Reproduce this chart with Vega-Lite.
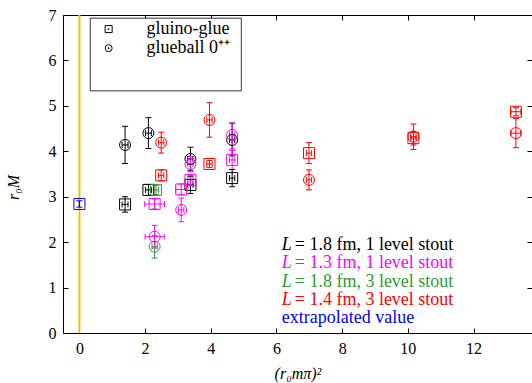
{
  "$schema": "https://vega.github.io/schema/vega-lite/v6.json",
  "width": 469,
  "height": 318,
  "autosize": {"type": "none"},
  "padding": {"left": 63, "top": 15, "right": 0, "bottom": 50},
  "background": "white",
  "config": {
    "view": {"stroke": "#000", "strokeWidth": 1},
    "font": "Liberation Serif",
    "axis": {"grid": false, "domain": false, "tickSize": -5, "tickColor": "#000", "tickWidth": 1, "labelColor": "#000", "labelFont": "Liberation Serif", "labelFontSize": 16, "titleFont": "Liberation Serif", "titleFontSize": 16, "titleFontWeight": "normal", "titleColor": "#000", "labelFlush": false, "labelOverlap": false}
  },
  "datasets": {
    "main": [
      {"s": "k", "m": "sq", "x": 1.39, "y": 2.83, "xlo": 1.30, "xhi": 1.48, "ylo": 2.66, "yhi": 3.00},
      {"s": "k", "m": "ci", "x": 1.39, "y": 4.14, "xlo": 1.30, "xhi": 1.48, "ylo": 3.73, "yhi": 4.55},
      {"s": "k", "m": "sq", "x": 2.10, "y": 3.15, "xlo": 2.01, "xhi": 2.19, "ylo": 3.03, "yhi": 3.27},
      {"s": "k", "m": "ci", "x": 2.10, "y": 4.40, "xlo": 2.01, "xhi": 2.19, "ylo": 4.06, "yhi": 4.74},
      {"s": "k", "m": "sq", "x": 3.38, "y": 3.26, "xlo": 3.30, "xhi": 3.46, "ylo": 3.07, "yhi": 3.45},
      {"s": "k", "m": "ci", "x": 3.38, "y": 3.83, "xlo": 3.30, "xhi": 3.46, "ylo": 3.57, "yhi": 4.09},
      {"s": "k", "m": "sq", "x": 4.65, "y": 3.41, "xlo": 4.57, "xhi": 4.73, "ylo": 3.22, "yhi": 3.60},
      {"s": "k", "m": "ci", "x": 4.65, "y": 4.25, "xlo": 4.57, "xhi": 4.73, "ylo": 3.90, "yhi": 4.62},
      {"s": "g", "m": "sq", "x": 2.33, "y": 3.15, "xlo": 2.25, "xhi": 2.41, "ylo": 3.05, "yhi": 3.25},
      {"s": "g", "m": "ci", "x": 2.29, "y": 1.90, "xlo": 2.21, "xhi": 2.37, "ylo": 1.65, "yhi": 2.15},
      {"s": "m", "m": "sq", "x": 2.29, "y": 2.84, "xlo": 1.99, "xhi": 2.59, "ylo": 2.73, "yhi": 2.95},
      {"s": "m", "m": "ci", "x": 2.29, "y": 2.12, "xlo": 2.00, "xhi": 2.58, "ylo": 1.87, "yhi": 2.37},
      {"s": "m", "m": "sq", "x": 3.10, "y": 3.16, "xlo": 2.93, "xhi": 3.27, "ylo": 3.04, "yhi": 3.28},
      {"s": "m", "m": "ci", "x": 3.10, "y": 2.71, "xlo": 3.02, "xhi": 3.18, "ylo": 2.45, "yhi": 2.97},
      {"s": "m", "m": "sq", "x": 3.38, "y": 3.37, "xlo": 3.30, "xhi": 3.46, "ylo": 3.27, "yhi": 3.47},
      {"s": "m", "m": "ci", "x": 3.38, "y": 3.72, "xlo": 3.30, "xhi": 3.46, "ylo": 3.55, "yhi": 3.89},
      {"s": "m", "m": "sq", "x": 4.65, "y": 3.81, "xlo": 4.57, "xhi": 4.73, "ylo": 3.60, "yhi": 4.02},
      {"s": "m", "m": "ci", "x": 4.65, "y": 4.36, "xlo": 4.57, "xhi": 4.73, "ylo": 4.05, "yhi": 4.62},
      {"s": "r", "m": "ci", "x": 2.49, "y": 4.19, "xlo": 2.41, "xhi": 2.57, "ylo": 3.96, "yhi": 4.42},
      {"s": "r", "m": "sq", "x": 2.49, "y": 3.47, "xlo": 2.41, "xhi": 2.57, "ylo": 3.35, "yhi": 3.59},
      {"s": "r", "m": "ci", "x": 3.96, "y": 4.69, "xlo": 3.88, "xhi": 4.04, "ylo": 4.31, "yhi": 5.07},
      {"s": "r", "m": "sq", "x": 3.96, "y": 3.72, "xlo": 3.88, "xhi": 4.04, "ylo": 3.64, "yhi": 3.80},
      {"s": "r", "m": "sq", "x": 6.99, "y": 3.96, "xlo": 6.91, "xhi": 7.07, "ylo": 3.73, "yhi": 4.19},
      {"s": "r", "m": "ci", "x": 6.99, "y": 3.37, "xlo": 6.91, "xhi": 7.07, "ylo": 3.15, "yhi": 3.59},
      {"s": "r", "m": "sq", "x": 10.17, "y": 4.29, "xlo": 10.09, "xhi": 10.25, "ylo": 4.14, "yhi": 4.44},
      {"s": "r", "m": "ci", "x": 10.17, "y": 4.32, "xlo": 10.09, "xhi": 10.25, "ylo": 4.04, "yhi": 4.60},
      {"s": "r", "m": "sq", "x": 13.29, "y": 4.87, "xlo": 13.14, "xhi": 13.44, "ylo": 4.78, "yhi": 4.96},
      {"s": "r", "m": "ci", "x": 13.29, "y": 4.40, "xlo": 13.14, "xhi": 13.44, "ylo": 4.08, "yhi": 4.72},
      {"s": "b", "m": "sq", "x": 0.0, "y": 2.84, "xlo": 0.0, "xhi": 0.0, "ylo": 2.77, "yhi": 2.91}
    ],
    "legbox": [{"x1": 0.33, "x2": 4.93, "y1": 5.33, "y2": 6.93}],
    "leg": [
      {"x": 0.89, "y": 6.69, "m": "sq", "t": "gluino-glue", "tx": 2.04},
      {"x": 0.89, "y": 6.27, "m": "ci", "t": "glueball 0⁺⁺", "tx": 2.04}
    ],
    "ann": [
      {"x": 6.16, "y": 1.94, "s": "k", "L": "L", "t": "= 1.8 fm, 1 level stout"},
      {"x": 6.16, "y": 1.53, "s": "m", "L": "L", "t": "= 1.3 fm, 1 level stout"},
      {"x": 6.16, "y": 1.13, "s": "g", "L": "L", "t": "= 1.8 fm, 3 level stout"},
      {"x": 6.16, "y": 0.73, "s": "r", "L": "L", "t": "= 1.4 fm, 3 level stout"},
      {"x": 6.16, "y": 0.32, "s": "b", "L": "", "t": "extrapolated value"}
    ]
  },
  "layer": [
    {
      "data": {"values": [{"x": 0}]},
      "mark": {"type": "rule", "color": "#f2c200", "strokeWidth": 2},
      "encoding": {
        "x": {"field": "x", "type": "quantitative", "scale": {"domain": [-0.5, 13.78], "nice": false, "zero": false}, "axis": null}
      }
    },
    {
      "data": {"name": "legbox"},
      "mark": {"type": "rect", "fill": "white", "stroke": "#333", "strokeWidth": 1},
      "encoding": {
        "x": {"field": "x1", "type": "quantitative", "scale": {"domain": [-0.5, 13.78], "nice": false, "zero": false}, "axis": null},
        "x2": {"field": "x2"},
        "y": {"field": "y1", "type": "quantitative", "scale": {"domain": [0, 7], "nice": false}, "axis": null},
        "y2": {"field": "y2"}
      }
    },
    {
      "data": {"name": "leg"},
      "mark": {"type": "point", "filled": false, "size": 49, "strokeWidth": 1, "color": "#000", "opacity": 1},
      "encoding": {
        "x": {"field": "x", "type": "quantitative", "scale": {"domain": [-0.5, 13.78], "nice": false, "zero": false}, "axis": null},
        "y": {"field": "y", "type": "quantitative", "scale": {"domain": [0, 7], "nice": false}, "axis": null},
        "shape": {"field": "m", "type": "nominal", "scale": {"domain": ["sq", "ci"], "range": ["square", "circle"]}, "legend": null}
      }
    },
    {
      "data": {"name": "leg"},
      "mark": {"type": "point", "filled": true, "size": 3, "color": "#000", "opacity": 1, "shape": "circle"},
      "encoding": {
        "x": {"field": "x", "type": "quantitative", "scale": {"domain": [-0.5, 13.78], "nice": false, "zero": false}, "axis": null},
        "y": {"field": "y", "type": "quantitative", "scale": {"domain": [0, 7], "nice": false}, "axis": null}
      }
    },
    {
      "data": {"name": "leg"},
      "mark": {"type": "text", "align": "left", "baseline": "middle", "fontSize": 18, "font": "Liberation Serif", "color": "#000"},
      "encoding": {
        "x": {"field": "tx", "type": "quantitative", "scale": {"domain": [-0.5, 13.78], "nice": false, "zero": false}, "axis": null},
        "y": {"field": "y", "type": "quantitative", "scale": {"domain": [0, 7], "nice": false}, "axis": null},
        "text": {"field": "t"}
      }
    },
    {
      "data": {"name": "main"},
      "mark": {"type": "rule", "strokeWidth": 1},
      "encoding": {
        "x": {"field": "x", "type": "quantitative", "scale": {"domain": [-0.5, 13.78], "nice": false, "zero": false}, "axis": null},
        "y": {"field": "ylo", "type": "quantitative", "scale": {"domain": [0, 7], "nice": false}, "axis": null},
        "y2": {"field": "yhi"},
        "color": {"field": "s", "type": "nominal", "scale": {"domain": ["k", "m", "g", "r", "b"], "range": ["#000000", "#ff00ff", "#339933", "#ff0000", "#0000ff"]}, "legend": null}
      }
    },
    {
      "data": {"name": "main"},
      "mark": {"type": "rule", "strokeWidth": 1},
      "encoding": {
        "x": {"field": "xlo", "type": "quantitative", "scale": {"domain": [-0.5, 13.78], "nice": false, "zero": false}, "axis": null},
        "x2": {"field": "xhi"},
        "y": {"field": "y", "type": "quantitative", "scale": {"domain": [0, 7], "nice": false}, "axis": null},
        "color": {"field": "s", "type": "nominal", "legend": null}
      }
    },
    {
      "data": {"name": "main"},
      "mark": {"type": "point", "shape": "M-1,0L1,0", "filled": false, "size": 36, "strokeWidth": 1, "opacity": 1},
      "encoding": {
        "x": {"field": "x", "type": "quantitative", "scale": {"domain": [-0.5, 13.78], "nice": false, "zero": false}, "axis": null},
        "y": {"field": "ylo", "type": "quantitative", "scale": {"domain": [0, 7], "nice": false}, "axis": null},
        "color": {"field": "s", "type": "nominal", "legend": null}
      }
    },
    {
      "data": {"name": "main"},
      "mark": {"type": "point", "shape": "M-1,0L1,0", "filled": false, "size": 36, "strokeWidth": 1, "opacity": 1},
      "encoding": {
        "x": {"field": "x", "type": "quantitative", "scale": {"domain": [-0.5, 13.78], "nice": false, "zero": false}, "axis": null},
        "y": {"field": "yhi", "type": "quantitative", "scale": {"domain": [0, 7], "nice": false}, "axis": null},
        "color": {"field": "s", "type": "nominal", "legend": null}
      }
    },
    {
      "data": {"name": "main"},
      "mark": {"type": "point", "shape": "M0,-1L0,1", "filled": false, "size": 36, "strokeWidth": 1, "opacity": 1},
      "encoding": {
        "x": {"field": "xlo", "type": "quantitative", "scale": {"domain": [-0.5, 13.78], "nice": false, "zero": false}, "axis": null},
        "y": {"field": "y", "type": "quantitative", "scale": {"domain": [0, 7], "nice": false}, "axis": null},
        "color": {"field": "s", "type": "nominal", "legend": null}
      }
    },
    {
      "data": {"name": "main"},
      "mark": {"type": "point", "shape": "M0,-1L0,1", "filled": false, "size": 36, "strokeWidth": 1, "opacity": 1},
      "encoding": {
        "x": {"field": "xhi", "type": "quantitative", "scale": {"domain": [-0.5, 13.78], "nice": false, "zero": false}, "axis": null},
        "y": {"field": "y", "type": "quantitative", "scale": {"domain": [0, 7], "nice": false}, "axis": null},
        "color": {"field": "s", "type": "nominal", "legend": null}
      }
    },
    {
      "data": {"name": "main"},
      "mark": {"type": "point", "filled": false, "size": 121, "strokeWidth": 1, "opacity": 1},
      "encoding": {
        "x": {"field": "x", "type": "quantitative", "scale": {"domain": [-0.5, 13.78], "nice": false, "zero": false},
          "axis": {"orient": "bottom", "values": [0, 2, 4, 6, 8, 10, 12], "title": "(r₀mπ)²", "titleFontStyle": "italic", "labelPadding": 12, "titlePadding": 9}},
        "y": {"field": "y", "type": "quantitative", "scale": {"domain": [0, 7], "nice": false},
          "axis": {"orient": "left", "values": [0, 1, 2, 3, 4, 5, 6, 7], "title": "r₀M", "titleFontStyle": "italic", "labelPadding": 12, "titleX": -42, "titleY": 172}},
        "color": {"field": "s", "type": "nominal", "legend": null},
        "shape": {"field": "m", "type": "nominal", "legend": null}
      }
    },
    {
      "data": {"name": "main"},
      "mark": {"type": "point", "opacity": 0},
      "encoding": {
        "x": {"field": "x", "type": "quantitative", "scale": {"domain": [-0.5, 13.78], "nice": false, "zero": false},
          "axis": {"orient": "top", "values": [0, 2, 4, 6, 8, 10, 12], "labels": false, "title": null}},
        "y": {"field": "y", "type": "quantitative", "scale": {"domain": [0, 7], "nice": false},
          "axis": {"orient": "right", "values": [0, 1, 2, 3, 4, 5, 6, 7], "labels": false, "title": null}}
      }
    },
    {
      "data": {"name": "ann"},
      "mark": {"type": "text", "align": "left", "baseline": "middle", "fontSize": 18, "font": "Liberation Serif", "fontStyle": "italic"},
      "encoding": {
        "x": {"field": "x", "type": "quantitative", "scale": {"domain": [-0.5, 13.78], "nice": false, "zero": false}, "axis": null},
        "y": {"field": "y", "type": "quantitative", "scale": {"domain": [0, 7], "nice": false}, "axis": null},
        "text": {"field": "L"},
        "color": {"field": "s", "type": "nominal", "legend": null}
      }
    },
    {
      "data": {"name": "ann"},
      "transform": [{"filter": "datum.L != ''"}],
      "mark": {"type": "text", "align": "left", "baseline": "middle", "fontSize": 18, "font": "Liberation Serif", "dx": 13},
      "encoding": {
        "x": {"field": "x", "type": "quantitative", "scale": {"domain": [-0.5, 13.78], "nice": false, "zero": false}, "axis": null},
        "y": {"field": "y", "type": "quantitative", "scale": {"domain": [0, 7], "nice": false}, "axis": null},
        "text": {"field": "t"},
        "color": {"field": "s", "type": "nominal", "legend": null}
      }
    },
    {
      "data": {"name": "ann"},
      "transform": [{"filter": "datum.L == ''"}],
      "mark": {"type": "text", "align": "left", "baseline": "middle", "fontSize": 18, "font": "Liberation Serif"},
      "encoding": {
        "x": {"field": "x", "type": "quantitative", "scale": {"domain": [-0.5, 13.78], "nice": false, "zero": false}, "axis": null},
        "y": {"field": "y", "type": "quantitative", "scale": {"domain": [0, 7], "nice": false}, "axis": null},
        "text": {"field": "t"},
        "color": {"field": "s", "type": "nominal", "legend": null}
      }
    }
  ],
  "resolve": {"axis": {"x": "independent", "y": "independent"}}
}
